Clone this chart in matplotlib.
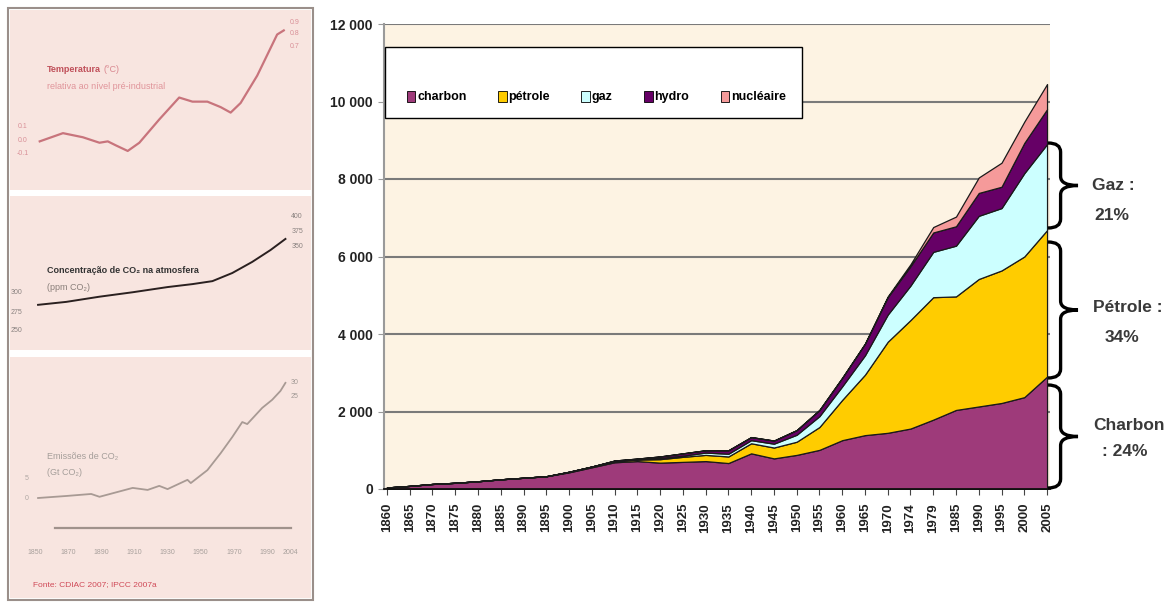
import matplotlib
matplotlib.use('Agg')
import matplotlib.pyplot as plt
import numpy as np
from matplotlib.patches import Rectangle, Patch, PathPatch
from matplotlib.path import Path

plt.rcParams['font.family'] = ['Liberation Sans', 'DejaVu Sans']

# --- main chart data (Mtep, stacked) ---
years = ['1860', '1865', '1870', '1875', '1880', '1885', '1890', '1895', '1900', '1905',
         '1910', '1915', '1920', '1925', '1930', '1935', '1940', '1945', '1950', '1955',
         '1960', '1965', '1970', '1974', '1979', '1985', '1990', '1995', '2000', '2005']
charbon = [40, 80, 130, 160, 200, 250, 290, 330, 430, 560,
           690, 720, 680, 700, 720, 670, 920, 790, 880, 1010,
           1260, 1390, 1450, 1560, 1790, 2040, 2130, 2220, 2370, 2900]
petrole = [0, 0, 0, 0, 0, 0, 0, 0, 15, 20,
           30, 40, 90, 130, 160, 170, 260, 280, 340, 590,
           1040, 1560, 2350, 2800, 3160, 2930, 3290, 3420, 3630, 3780]
gaz = [0, 0, 0, 0, 0, 0, 0, 0, 0, 0,
       5, 10, 30, 30, 60, 70, 80, 100, 180, 280,
       350, 500, 700, 890, 1170, 1310, 1630, 1610, 2150, 2220]
hydro = [0, 0, 0, 0, 0, 0, 0, 0, 0, 0,
         10, 15, 40, 60, 60, 90, 80, 80, 120, 160,
         220, 300, 450, 500, 500, 500, 590, 550, 780, 900]
nucleaire = [0] * 22 + [20, 50, 140, 250, 400, 620, 550, 650]

names = ['charbon', 'pétrole', 'gaz', 'hydro', 'nucléaire']
colors = ['#9E3A7A', '#FFCC00', '#CCFFFF', '#660066', '#F59A9A']

# --- small panels on the left ---
temp_years = [1853, 1867, 1879, 1889, 1894, 1899, 1906, 1913, 1925, 1937,
              1945, 1954, 1962, 1968, 1974, 1984, 1992, 1996, 2000]
temp_vals = [-0.01, 0.05, 0.02, -0.02, -0.01, -0.04, -0.08, -0.02, 0.15, 0.31,
             0.28, 0.28, 0.24, 0.20, 0.27, 0.47, 0.67, 0.77, 0.80]
co2_years = [1852, 1869, 1889, 1909, 1930, 1945, 1957, 1969, 1981, 1992, 2001]
co2_vals = [284, 288, 295, 301, 308, 312, 316, 327, 342, 358, 373]
emis_years = [1852, 1869, 1884, 1889, 1909, 1918, 1925, 1930, 1942, 1944,
              1954, 1962, 1969, 1975, 1978, 1987, 1993, 1998, 2001]
emis_vals = [0.0, 0.5, 1.0, 0.3, 2.5, 2.0, 3.0, 2.2, 4.5, 3.7,
             6.9, 11.1, 15.1, 18.8, 18.3, 22.3, 24.3, 26.5, 28.5]
panel_xlabels = [1850, 1870, 1890, 1910, 1930, 1950, 1970, 1990, 2004]

W, H = 1176, 602
fig = plt.figure(figsize=(W / 100, H / 100), dpi=100)


def fbox(x0, y0, x1, y1):
    # pixel box (top-left origin) -> figure fraction rect
    return [x0 / W, 1 - y1 / H, (x1 - x0) / W, (y1 - y0) / H]


# frame around the left image (below the small axes)
fig.add_artist(Rectangle((8 / W, 1 - 600 / H), 305 / W, 592 / H, transform=fig.transFigure,
                         facecolor='white', edgecolor='#9a8f8a', lw=1.5, zorder=-1))

pink = '#F8E5E0'
xl = (1835.1, 2016.4)

ax_t = fig.add_axes(fbox(10, 10, 311, 190))
ax_c = fig.add_axes(fbox(10, 196, 311, 350))
ax_e = fig.add_axes(fbox(10, 357, 311, 598))
for a in (ax_t, ax_c, ax_e):
    a.set_facecolor(pink)
    a.set_xlim(*xl)
    a.set_xticks([])
    a.set_yticks([])
    for s in a.spines.values():
        s.set_visible(False)

# temperature
ax_t.set_ylim(-0.365, 0.949)
ax_t.plot(temp_years, temp_vals, color='#C8747C', lw=1.6)
ax_t.text(1857.3, 0.511, 'Temperatura', color='#C0505A', fontsize=6.5, fontweight='bold', va='center')
ax_t.text(1891.5, 0.511, '(°C)', color='#D98890', fontsize=6.5, va='center')
ax_t.text(1857.3, 0.394, 'relativa ao nível pré-industrial', color='#E0949A', fontsize=6.5, va='center')
for v in [0.1, 0.0, -0.1]:
    ax_t.text(1842.9, v, f'{v:.1f}', color='#D99098', fontsize=5, ha='center', va='center')
for lab, v in zip(['0.9', '0.8', '0.7'], [0.861, 0.781, 0.679]):
    ax_t.text(2006.7, v, lab, color='#D99098', fontsize=5, ha='center', va='center')

# CO2 concentration
ax_c.set_ylim(223, 431)
ax_c.plot(co2_years, co2_vals, color='#2A2020', lw=1.4)
ax_c.text(1857.3, 331, 'Concentração de CO₂ na atmosfera', color='#333333', fontsize=6.5,
          fontweight='bold', va='center')
ax_c.text(1857.3, 308, '(ppm CO₂)', color='#8a7f7a', fontsize=6.5, va='center')
for lab, v in zip(['300', '275', '250'], [300, 274, 250]):
    ax_c.text(1839, v, lab, color='#8a8280', fontsize=5, ha='center', va='center')
for lab, v in zip(['400', '375', '350'], [402.7, 382.4, 362.2]):
    ax_c.text(2008, v, lab, color='#8a8280', fontsize=5, ha='center', va='center')

# CO2 emissions
ax_e.set_ylim(-24.75, 34.9)
ax_e.plot(emis_years, emis_vals, color='#A89A94', lw=1.3)
ax_e.axhline(-7.43, xmin=0.15, xmax=0.935, color='#A0928C', lw=1.6)
ax_e.text(1857.3, 10.15, 'Emissões de CO₂', color='#A59E9A', fontsize=6.5, va='center')
ax_e.text(1857.3, 6.4, '(Gt CO₂)', color='#A59E9A', fontsize=6.5, va='center')
for lab, v in zip(['5', '0'], [4.95, 0]):
    ax_e.text(1845, v, lab, color='#B0A8A4', fontsize=5, ha='center', va='center')
for lab, v in zip(['30', '25'], [28.5, 25]):
    ax_e.text(2006.7, v, lab, color='#A09894', fontsize=5, ha='center', va='center')
for yr in panel_xlabels:
    ax_e.text(yr, -13.4, str(yr), color='#A8A09C', fontsize=5, ha='center', va='center')
ax_e.text(1848.9, -21.5, 'Fonte: CDIAC 2007; IPCC 2007a', color='#D04A58', fontsize=6,
          ha='left', va='center')

# --- main stacked area chart ---
ax = fig.add_axes(fbox(384, 24, 1050, 489))
ax.set_facecolor('#FDF3E3')
x = np.arange(len(years))
ax.stackplot(x, charbon, petrole, gaz, hydro, nucleaire, colors=colors,
             edgecolor='#1a1a1a', linewidth=0.9, zorder=3)
ax.set_xlim(-0.13, len(years) - 1 + 0.13)
ax.set_ylim(0, 12000)
ax.set_xticks(x)
ax.set_xticklabels(years, rotation=90, fontsize=9.5, fontweight='bold', color='#222222')
yt = np.arange(0, 12001, 2000)
ax.set_yticks(yt)
ax.set_yticklabels([f'{v:,}'.replace(',', ' ') for v in yt], fontsize=10,
                   fontweight='bold', color='#222222')
ax.grid(axis='y', color='#7a7a7a', lw=1.5)
ax.set_axisbelow(True)
for s in ['top', 'right']:
    ax.spines[s].set_visible(False)
ax.spines['left'].set_color('#9a9a9a')
ax.spines['left'].set_linewidth(1.5)
ax.spines['bottom'].set_color('#111111')
ax.spines['bottom'].set_linewidth(1.3)
ax.spines['bottom'].set_zorder(4)
ax.tick_params(axis='x', length=4, color='#444444', pad=6)
ax.tick_params(axis='y', length=4, color='#9a9a9a', pad=4)

# legend box
ax.add_patch(Rectangle((0.0015, 0.7978), 0.6261, 0.1527, transform=ax.transAxes,
                       facecolor='white', edgecolor='black', lw=1, zorder=5))
handles = [Patch(facecolor=c, edgecolor='black', lw=0.6) for c in colors]
leg = ax.legend(handles, names, loc='center left', bbox_to_anchor=(0.017, 0.843), ncol=5,
                frameon=False, handlelength=0.7, handleheight=1.0, handletextpad=0.15,
                columnspacing=2.5, prop={'weight': 'bold', 'size': 9})
leg.set_zorder(6)


# braces on the right
def brace(x0, ytop, ybot, w=30, lw=2.4):
    ym = (ytop + ybot) / 2
    xm = x0 + w * 0.42
    r = min(9, (ybot - ytop) / 6)
    pts = [(x0, ytop), (xm, ytop), (xm, ytop + r), (xm, ym - r), (xm, ym), (x0 + w, ym),
           (xm, ym), (xm, ym + r), (xm, ybot - r), (xm, ybot), (x0, ybot)]
    codes = [Path.MOVETO, Path.CURVE3, Path.CURVE3, Path.LINETO, Path.CURVE3, Path.CURVE3,
             Path.CURVE3, Path.CURVE3, Path.LINETO, Path.CURVE3, Path.CURVE3]
    verts = [(px / W, 1 - py / H) for px, py in pts]
    fig.add_artist(PathPatch(Path(verts, codes), transform=fig.transFigure,
                             facecolor='none', edgecolor='black', lw=lw))


brace(1048, 143, 228)
brace(1048, 242, 378)
brace(1048, 385, 488)

tcol = '#3a3a3a'
labels_right = [('Gaz :', 1113, 185), ('21%', 1112, 215), ('Pétrole :', 1128, 307),
                ('34%', 1122, 338), ('Charbon', 1129, 425), (': 24%', 1125, 452)]
for t, px, py in labels_right:
    fig.text(px / W, 1 - py / H, t, fontsize=12.5, fontweight='bold', color=tcol,
             ha='center', va='center')

fig.savefig('out.png', dpi=100, facecolor='white')
